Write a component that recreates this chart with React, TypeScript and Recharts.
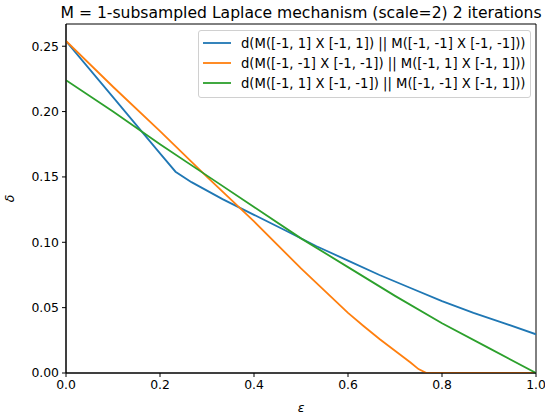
import { LineChart, Line, XAxis, YAxis, Legend, Label, ReferenceArea } from 'recharts';

const title = 'M = 1-subsampled Laplace mechanism (scale=2) 2 iterations';

const xTicks = [0, 0.2, 0.4, 0.6, 0.8, 1.0];
const yTicks = [0, 0.05, 0.1, 0.15, 0.2, 0.25];
const yMax = 0.267;

const blueX = [0, 0.1, 0.2, 0.233, 0.267, 0.333, 0.4, 0.467, 0.533, 0.6, 0.667, 0.733, 0.8, 0.867, 0.933, 1.0];
const blueY = [0.254, 0.211, 0.168, 0.154, 0.146, 0.133, 0.121, 0.109, 0.097, 0.086, 0.075, 0.065, 0.055, 0.046, 0.038, 0.0296];

const orangeX = [0, 0.1, 0.2, 0.3, 0.4, 0.5, 0.6, 0.633, 0.667, 0.7, 0.733, 0.75, 0.767, 0.8, 1.0];
const orangeY = [0.254, 0.219, 0.185, 0.150, 0.116, 0.080, 0.046, 0.036, 0.026, 0.017, 0.008, 0.003, 0, 0, 0];

const greenX = [0, 0.1, 0.2, 0.3, 0.4, 0.5, 0.6, 0.7, 0.8, 0.9, 1.0];
const greenY = [0.224, 0.2, 0.175, 0.151, 0.127, 0.103, 0.081, 0.059, 0.038, 0.019, 0];

const seriesNames = [
  'd(M([-1, 1] X [-1, 1]) || M([-1, -1] X [-1, -1]))',
  'd(M([-1, -1] X [-1, -1]) || M([-1, 1] X [-1, 1]))',
  'd(M([-1, 1] X [-1, -1]) || M([-1, -1] X [-1, 1]))',
];
const seriesColors = ['#1f77b4', '#ff7f0e', '#2ca02c'];

const toPoints = (xs: number[], ys: number[]) => xs.map((x, i) => ({ x, y: ys[i] }));

const font = 'DejaVu Sans, sans-serif';

const LegendBox = () => (
  <div
    style={{
      border: '1px solid #d0d0d0',
      borderRadius: 3,
      background: 'rgba(255,255,255,0.85)',
      padding: '2px 5px 4px 4px',
      fontFamily: font,
      fontSize: 13.2,
      color: '#000',
    }}
  >
    {seriesNames.map((name, i) => (
      <div key={name} style={{ display: 'flex', alignItems: 'center', height: 20 }}>
        <svg width={28} height={4} style={{ marginRight: 10 }}>
          <line x1={0} y1={2} x2={28} y2={2} stroke={seriesColors[i]} strokeWidth={1.8} />
        </svg>
        <span style={{ whiteSpace: 'nowrap' }}>{name}</span>
      </div>
    ))}
  </div>
);

export default function App() {
  const tickStyle = { fill: '#000', fontFamily: font, fontSize: 12.4 };
  const series = [
    { xs: blueX, ys: blueY },
    { xs: orangeX, ys: orangeY },
    { xs: greenX, ys: greenY },
  ];
  return (
    <div style={{ position: 'absolute', left: 0, top: 0, background: '#fff' }}>
      <LineChart width={545} height={415} margin={{ top: 24, right: 9, bottom: 0, left: 0 }}>
        <XAxis
          dataKey="x"
          type="number"
          domain={[0, 1]}
          ticks={xTicks}
          tickFormatter={(v: number) => v.toFixed(1)}
          tick={tickStyle}
          tickSize={4}
          tickMargin={3}
          height={42}
          stroke="#000"
          allowDataOverflow
        >
          <Label value="ε" position="insideBottom" offset={3} style={{ fill: '#000', fontFamily: font, fontSize: 12.4, fontStyle: 'italic' }} />
        </XAxis>
        <YAxis
          type="number"
          domain={[0, yMax]}
          ticks={yTicks}
          tickFormatter={(v: number) => v.toFixed(2)}
          tick={tickStyle}
          tickSize={4}
          tickMargin={3}
          width={66}
          stroke="#000"
          allowDataOverflow
        >
          <Label value="δ" angle={-90} position="insideLeft" offset={10} style={{ fill: '#000', fontFamily: font, fontSize: 12.4, fontStyle: 'italic', textAnchor: 'middle' }} />
        </YAxis>
        {/* plot frame + title */}
        <ReferenceArea x1={0} x2={1} y1={0} y2={yMax} fill="none" stroke="#000" strokeWidth={1} ifOverflow="visible">
          <Label value={title} position="top" offset={6} style={{ fill: '#000', fontFamily: font, fontSize: 15.6 }} />
        </ReferenceArea>
        <Legend
          layout="horizontal"
          verticalAlign="middle"
          align="center"
          wrapperStyle={{ top: 30, left: 198, width: 'auto' }}
          content={() => <LegendBox />}
        />
        {series.map((s, i) => (
          <Line
            key={seriesNames[i]}
            data={toPoints(s.xs, s.ys)}
            dataKey="y"
            name={seriesNames[i]}
            stroke={seriesColors[i]}
            strokeWidth={1.8}
            dot={false}
            isAnimationActive={false}
          />
        ))}
      </LineChart>
    </div>
  );
}
